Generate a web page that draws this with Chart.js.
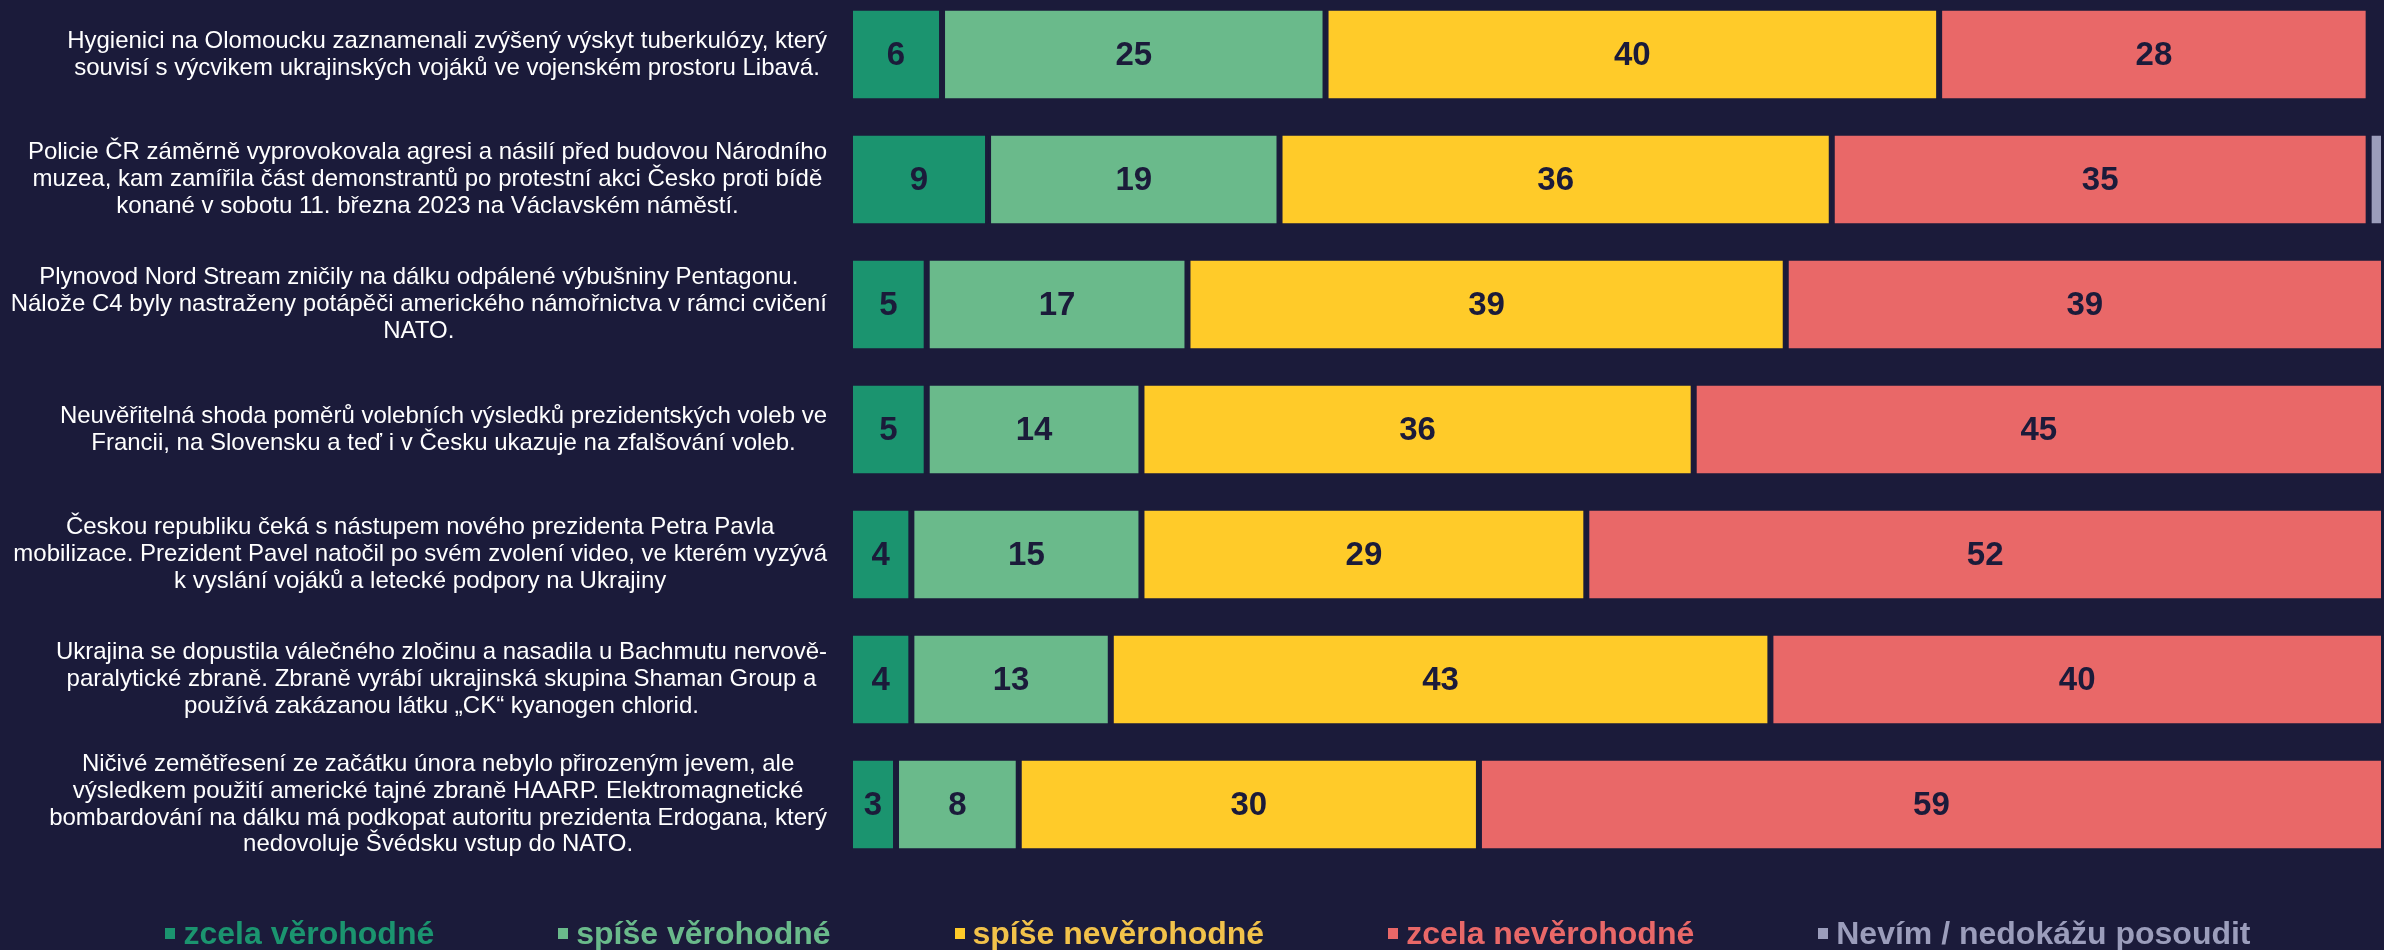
<!DOCTYPE html>
<html lang="cs">
<head>
<meta charset="utf-8">
<title>Věrohodnost tvrzení</title>
<script src="https://cdn.jsdelivr.net/npm/chart.js@4/dist/chart.umd.min.js"></script>
<style>
  html, body { margin: 0; padding: 0; background: #1b1b3a; }
  #wrap { position: relative; width: 2384px; height: 950px; overflow: hidden; }
  /* plot starts a little above the page top, like the original crop */
  #myCanvas { position: absolute; left: 0; top: -8px; }
  #legend {
    position: absolute; left: 32px; right: 0; top: 910px; height: 46px;
    display: flex; justify-content: center; align-items: center; gap: 124px;
    font: bold 32px "Liberation Sans", Arial, sans-serif; white-space: nowrap;
  }
  #legend .item { display: flex; align-items: center; }
  #legend .box { display: inline-block; width: 10px; height: 11px; margin-right: 8px; }
</style>
</head>
<body>
<div id="wrap">
  <canvas id="myCanvas" width="2384" height="958"></canvas>
  <div id="legend"></div>
</div>
<script>
// statements (one array of lines per bar)
var statements = [
    ["Hygienici na Olomoucku zaznamenali zvýšený výskyt tuberkulózy, který",
     "souvisí s výcvikem ukrajinských vojáků ve vojenském prostoru Libavá."],
    ["Policie ČR záměrně vyprovokovala agresi a násilí před budovou Národního",
     "muzea, kam zamířila část demonstrantů po protestní akci Česko proti bídě",
     "konané v sobotu 11. března 2023 na Václavském náměstí."],
    ["Plynovod Nord Stream zničily na dálku odpálené výbušniny Pentagonu.",
     "Nálože C4 byly nastraženy potápěči amerického námořnictva v rámci cvičení",
     "NATO."],
    ["Neuvěřitelná shoda poměrů volebních výsledků prezidentských voleb ve",
     "Francii, na Slovensku a teď i v Česku ukazuje na zfalšování voleb."],
    ["Českou republiku čeká s nástupem nového prezidenta Petra Pavla",
     "mobilizace. Prezident Pavel natočil po svém zvolení video, ve kterém vyzývá",
     "k vyslání vojáků a letecké podpory na Ukrajiny"],
    ["Ukrajina se dopustila válečného zločinu a nasadila u Bachmutu nervově-",
     "paralytické zbraně. Zbraně vyrábí ukrajinská skupina Shaman Group a",
     "používá zakázanou látku \u201ECK\u201C kyanogen chlorid."],
    ["Ničivé zemětřesení ze začátku února nebylo přirozeným jevem, ale",
     "výsledkem použití americké tajné zbraně HAARP. Elektromagnetické",
     "bombardování na dálku má podkopat autoritu prezidenta Erdogana, který",
     "nedovoluje Švédsku vstup do NATO."]
];

// percentages
var zcela_verohodne   = [6, 9, 5, 5, 4, 4, 3];
var spise_verohodne   = [25, 19, 17, 14, 15, 13, 8];
var spise_neverohodne = [40, 36, 39, 36, 29, 43, 30];
var zcela_neverohodne = [28, 35, 39, 45, 52, 40, 59];
var nevim             = [0, 1, 0, 0, 0, 0, 0];

var series_names = ['zcela věrohodné', 'spíše věrohodné', 'spíše nevěrohodné',
                    'zcela nevěrohodné', 'Nevím / nedokážu posoudit'];
var series_colors = ['#1b946f', '#6aba8b', '#ffcb29', '#e96868', '#9b9dbb'];
var legend_colors = ['#1b946f', '#6aba8b', '#f2c24a', '#e96868', '#9b9dbb'];

var bg = '#1b1b3a';
var font_family = '"Liberation Sans", Arial, sans-serif';

function make_dataset(i, values) {
    return {
        label: series_names[i],
        data: values,
        backgroundColor: series_colors[i],
        borderColor: bg,
        borderWidth: {left: 3, right: 3, top: 0, bottom: 0},
        borderSkipped: false,
        barPercentage: 0.704,
        categoryPercentage: 1
    };
}

// numbers inside the bars (no datalabels plugin available offline)
var barLabels = {
    id: 'barLabels',
    afterDatasetsDraw: function(chart) {
        var ctx = chart.ctx;
        ctx.save();
        ctx.font = 'bold 33px ' + font_family;
        ctx.fillStyle = bg;
        ctx.textAlign = 'center';
        ctx.textBaseline = 'middle';
        chart.data.datasets.forEach(function(ds, i) {
            if (i > 3) return; // grey segment has no label
            chart.getDatasetMeta(i).data.forEach(function(bar, j) {
                var v = ds.data[j];
                if (!v) return;
                var p = bar.getCenterPoint();
                ctx.fillText(v, p.x, p.y + 1);
            });
        });
        ctx.restore();
    }
};

// category texts: each block right aligned, its lines centred (like Excel wrap)
var statementLabels = {
    id: 'statementLabels',
    afterDraw: function(chart) {
        var ctx = chart.ctx;
        var scale = chart.scales.y;
        var size = 24;
        var lineH = size * 1.12;
        var right = 827;
        ctx.save();
        ctx.font = size + 'px ' + font_family;
        ctx.fillStyle = '#ffffff';
        ctx.textAlign = 'center';
        ctx.textBaseline = 'middle';
        chart.data.labels.forEach(function(lines, i) {
            var widest = 0;
            lines.forEach(function(s) { widest = Math.max(widest, ctx.measureText(s).width); });
            var cx = right - widest / 2;
            var y0 = scale.getPixelForTick(i) - (lines.length - 1) * lineH / 2;
            lines.forEach(function(s, k) { ctx.fillText(s, cx, y0 + k * lineH); });
        });
        ctx.restore();
    }
};

var myChart = new Chart(document.getElementById('myCanvas'), {
    type: 'bar',
    data: {
        labels: statements,
        datasets: [
            make_dataset(0, zcela_verohodne),
            make_dataset(1, spise_verohodne),
            make_dataset(2, spise_neverohodne),
            make_dataset(3, zcela_neverohodne),
            make_dataset(4, nevim)
        ]
    },
    options: {
        indexAxis: 'y',
        responsive: false,
        animation: false,
        layout: {
            padding: {top: 0, bottom: 83, left: 0, right: 0}
        },
        plugins: {
            legend: {display: false},
            tooltip: {enabled: false}
        },
        scales: {
            x: {
                stacked: true,
                display: false,
                min: 0,
                max: 100
            },
            y: {
                stacked: true,
                grid: {display: false, drawTicks: false},
                border: {display: false},
                ticks: {display: false},
                afterFit: function(scale) {
                    scale.width = 850;
                    scale.paddingTop = 0;
                    scale.paddingBottom = 0;
                }
            }
        }
    },
    plugins: [barLabels, statementLabels]
});

// legend below the chart
var legendBox = document.getElementById('legend');
series_names.forEach(function(name, i) {
    var item = document.createElement('div');
    item.className = 'item';
    item.style.color = legend_colors[i];
    var box = document.createElement('span');
    box.className = 'box';
    box.style.background = series_colors[i];
    item.appendChild(box);
    item.appendChild(document.createTextNode(name));
    legendBox.appendChild(item);
});
</script>
</body>
</html>
